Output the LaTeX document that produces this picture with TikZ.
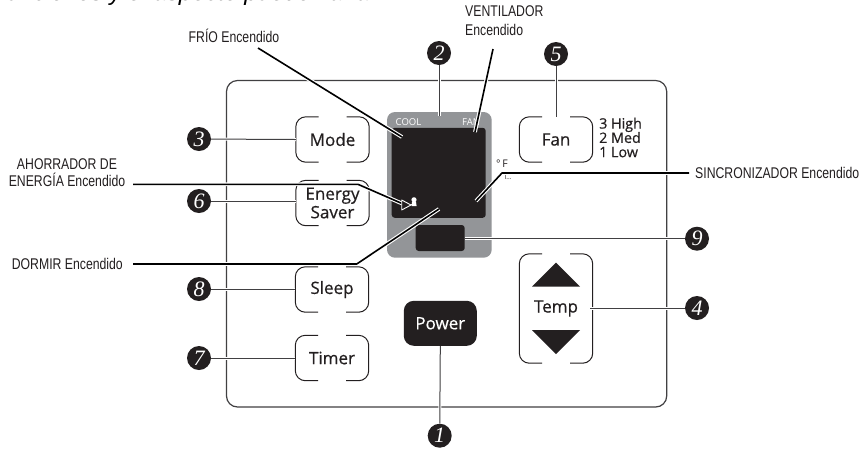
\documentclass[tikz,border=0pt]{standalone}
\usepackage{fontspec}
\setmainfont{Open Sans}
\newfontfamily\btnfont[FakeBold=0.5]{Open Sans}
\newfontfamily\condfont[FakeStretch=0.79]{Liberation Sans}
\newfontfamily\topfont{Liberation Sans}
\newfontfamily\digitfont{Liberation Serif}
\usetikzlibrary{calc}
\definecolor{ink}{HTML}{231F20}
\definecolor{panelgray}{HTML}{939598}
\definecolor{linegray}{HTML}{414042}
\tikzset{
  x=1pt,y=-1pt,
  btn/.style={minimum width=73pt,minimum height=45pt,inner sep=0pt,align=center,
    font=\btnfont\fontsize{17}{18.5}\selectfont,text=ink},
  bracket/.style={draw=ink,line width=1pt,rounded corners=10pt},
  numdot/.style={circle,fill=ink,draw=none,minimum size=24pt,inner sep=0pt,text=white,
    font=\digitfont\fontsize{22}{22}\itshape\selectfont},
  lab/.style={font=\condfont\fontsize{15.5}{19.5}\selectfont,text=ink,inner sep=0pt,align=center},
  numline/.style={draw=linegray,line width=1pt,preaction={draw=white,line width=3pt}},
  callout/.style={draw=black,line width=1.6pt,line join=round,preaction={draw=white,line width=3.8pt}},
  screenbox/.style={fill=ink,rounded corners=3pt,inner sep=0pt},
}
\newcommand{\brackets}[1]{%
  \draw[bracket] ($(#1.north)+(-14,0)$) -| (#1.west) |- ($(#1.south)+(-14,0)$);
  \draw[bracket] ($(#1.north)+(14,0)$) -| (#1.east) |- ($(#1.south)+(14,0)$);
}
\begin{document}
\begin{tikzpicture}
\useasboundingbox (0,0) rectangle (859,451);
\fill[white] (0,0) rectangle (859,451);
% cropped line of the page above
\begin{scope}
  \clip (0,0) rectangle (859,7);
  \node[anchor=base west,inner sep=0pt,font=\topfont\itshape\fontsize{24}{24}\selectfont,text=black] (toptext) at (0,0) {funciones y el aspecto puede variar};
\end{scope}
% panel
\draw[draw=linegray,line width=1.2pt,rounded corners=11pt] (226.5,80.5) rectangle (666.7,407);
% display
\fill[panelgray,rounded corners=8pt] (387,112) rectangle (491.7,257.7);
\node[screenbox,minimum width=94pt,minimum height=90pt] (screen) at (438.7,172.8) {};
\node[screenbox,minimum width=49pt,minimum height=26pt] (timerbox) at (440.2,238) {};
\node[font=\fontsize{9.5}{10}\selectfont,text=white,inner sep=0pt] (cool) at (408.5,122) {COOL};
\node[font=\fontsize{9.5}{10}\selectfont,text=white,inner sep=0pt] (fanlab) at (471,122) {FAN};
\node[font=\fontsize{10.5}{11}\selectfont,text=ink,inner sep=0pt] (degf) at (502,164) {°\,F};
\node[font=\fontsize{6.5}{7}\selectfont,text=ink,inner sep=0pt] (dots) at (508,177) {I...};
% sleep icon
\fill[white] (414,199.8) circle (2.6);
\fill[white] (412,202) -- (416,202) -- (416.6,206) -- (411.6,206) -- cycle;
% buttons
\node[btn] (mode) at (332.5,139.5) {Mode};
\node[btn] (energy) at (332.5,203) {Energy\\Saver};
\node[btn] (sleep) at (332,289.5) {Sleep};
\node[btn] (timer) at (332,358) {Timer};
\node[btn] (fan) at (556,139.5) {Fan};
\node[btn,minimum height=109pt] (temp) at (556,308.5) {Temp};
\brackets{mode}\brackets{energy}\brackets{sleep}\brackets{timer}\brackets{fan}\brackets{temp}
\node[btn,text=white,fill=ink,rounded corners=10pt] (power) at (440.3,323.3) {Power};
\node[anchor=north west,inner sep=0pt,align=left,font=\btnfont\fontsize{14.3}{14.3}\selectfont,text=ink] (fanspeeds) at (599,117.5) {3 High\\2 Med\\1 Low};
\fill[ink] (556,262.5) -- (580,286.5) -- (532,286.5) -- cycle;
\fill[ink] (556,354) -- (580,330) -- (532,330) -- cycle;
% numbered dots
\node[numdot] (n1) at (439.7,435.7) {1};
\node[numdot] (n2) at (439,53) {2};
\node[numdot] (n3) at (199,139) {3};
\node[numdot] (n4) at (697,308) {4};
\node[numdot] (n5) at (556,54) {5};
\node[numdot] (n6) at (199,201) {6};
\node[numdot] (n7) at (199,358) {7};
\node[numdot] (n8) at (199,289) {8};
\node[numdot] (n9) at (697,238.7) {9};
% numbered connectors
\coordinate (d2) at (439,116);
\draw[numline] (n2) -- (d2);
\draw[numline] (n5) -- (fan.north);
\draw[numline] (n3) -- (mode.west);
\draw[numline] (n6) -- (n6-|energy.west);
\draw[numline] (n8) -- (n8-|sleep.west);
\draw[numline] (n7) -- (n7-|timer.west);
\draw[numline] (n1) -- (power.south);
\draw[numline] (n4) -- (590,308);
\draw[numline] (n9) -- (timerbox.east|-n9);
% labels
\node[lab] (frio) at (234,36) {FRÍO Encendido};
\node[lab,align=left,anchor=north west] (vent) at (465,5) {VENTILADOR\\Encendido};
\node[lab,font=\condfont\fontsize{15.5}{17}\selectfont] (ahorr) at (67,172.5) {AHORRADOR DE\\ENERGÍA Encendido};
\node[lab,anchor=west] (sinc) at (695,173) {SINCRONIZADOR Encendido};
\node[lab,anchor=east] (dorm) at (123,264) {DORMIR Encendido};
% callouts
\coordinate (frioS) at (258,48); \coordinate (frioE) at (402,137);
\coordinate (ventS) at (493,49); \coordinate (ventE) at (475,132);
\coordinate (ahS) at (133,184.3); \coordinate (ahB) at (358,184.3); \coordinate (ahE) at (402,203.5);
\coordinate (siS) at (689,173); \coordinate (siB) at (502,173); \coordinate (siE) at (476,201);
\coordinate (doS) at (133,264); \coordinate (doB) at (356.7,264); \coordinate (doE) at (439,209);
\draw[callout] (frioS) -- (frioE);
\draw[callout] (ventS) -- (ventE);
\draw[callout] (ahS) -- (ahB) -- (ahE);
\draw[callout] (siS) -- (siB) -- (siE);
\draw[callout] (doS) -- (doB) -- (doE);
% energy icon triangle
\draw[white,fill=ink,line width=0.9pt,line join=round] (401.7,200) -- (411,205) -- (401.7,210) -- cycle;
\draw[white,line width=0.8pt] (411,205) -- (412.5,204);
\end{tikzpicture}
\end{document}
